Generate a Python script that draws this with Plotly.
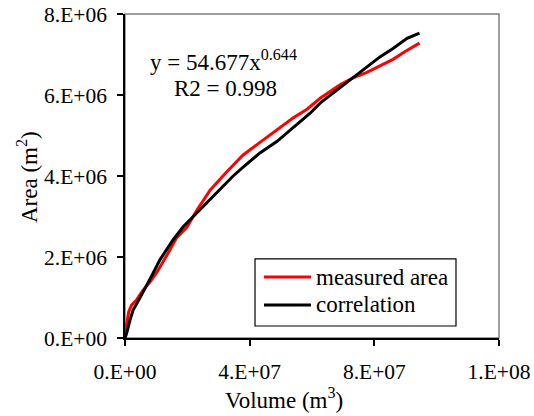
import numpy as np
import plotly.graph_objects as go

# Reservoir volume (million m3) and surface area (million m2), measured
measured_volume = [0, 0.5, 1.2, 2.1, 3.7, 5.8, 8.0, 10.2, 12.3, 14.4, 16.5, 19.9,
                   23.1, 27.3, 32.6, 37.9, 43.3, 48.7, 53.9, 58.4, 62.6, 69.0,
                   73.0, 77.6, 82.0, 86.0, 90.0, 94.5]
measured_area = [0.10, 0.35, 0.65, 0.81, 0.94, 1.18, 1.38, 1.62, 1.88, 2.17, 2.47, 2.74,
                 3.16, 3.65, 4.10, 4.52, 4.83, 5.14, 5.43, 5.65, 5.92, 6.25,
                 6.42, 6.56, 6.72, 6.88, 7.08, 7.28]

# Power-law correlation evaluated at the survey volumes (million units)
corr_volume = [0, 0.55, 1.6, 2.6, 4.8, 7.1, 9.0, 11.2, 15.4, 18.6, 21.8, 26.3,
               30.5, 34.7, 37.9, 43.3, 48.7, 52.9, 59.4, 62.6, 69.0, 75.4,
               81.8, 86.0, 90.5, 94.5]
corr_area = [0, 0.12, 0.44, 0.69, 0.99, 1.31, 1.60, 1.93, 2.42, 2.74, 2.99, 3.33,
             3.65, 4.00, 4.22, 4.57, 4.85, 5.12, 5.55, 5.80, 6.18, 6.54,
             6.94, 7.15, 7.40, 7.53]

x_tickvals = [0, 4e7, 8e7, 1.2e8]
x_ticktext = ["0.E+00", "4.E+07", "8.E+07", "1.E+08"]
y_tickvals = [0, 2e6, 4e6, 6e6, 8e6]
y_ticktext = ["0.E+00", "2.E+06", "4.E+06", "6.E+06", "8.E+06"]

series_names = ["measured area", "correlation"]
series_colors = ["#ff0000", "#000000"]

FONT = "Liberation Serif, Times New Roman, serif"

fig = go.Figure()
fig.add_trace(go.Scatter(x=np.array(measured_volume) * 1e6, y=np.array(measured_area) * 1e6,
                         mode="lines", name=series_names[0],
                         line=dict(color=series_colors[0], width=3)))
fig.add_trace(go.Scatter(x=np.array(corr_volume) * 1e6, y=np.array(corr_area) * 1e6,
                         mode="lines", name=series_names[1],
                         line=dict(color=series_colors[1], width=3)))

axis_common = dict(showgrid=False, zeroline=False, showline=True, linecolor="black",
                   linewidth=1.5, ticks="outside", ticklen=6, tickwidth=1.5,
                   tickcolor="black", automargin=False,
                   tickfont=dict(family=FONT, size=21.5, color="black"))

fig.update_xaxes(range=[0, 1.2e8], tickmode="array", tickvals=x_tickvals,
                 ticktext=x_ticktext, ticklabelstandoff=7, **axis_common)
fig.update_yaxes(range=[0, 8e6], tickmode="array", tickvals=y_tickvals,
                 ticktext=y_ticktext, ticklabelstandoff=6, **axis_common)

# grey frame on top / right
fig.add_shape(type="rect", xref="paper", yref="paper", x0=0, x1=1, y0=0, y1=1,
              line=dict(color="#808080", width=1.5), layer="below")

# legend box drawn by hand
fig.add_shape(type="rect", xref="paper", yref="paper", x0=0.3476, x1=0.885,
              y0=0.037, y1=0.244, line=dict(color="black", width=1.2),
              fillcolor="white", layer="above")
for row_y, name, col in zip([0.188, 0.102], series_names, series_colors):
    fig.add_shape(type="line", xref="paper", yref="paper", x0=0.3716, x1=0.4973,
                  y0=row_y, y1=row_y, line=dict(color=col, width=3), layer="above")
    fig.add_annotation(xref="paper", yref="paper", x=0.5053, y=row_y, text=name,
                       showarrow=False, xanchor="left", yanchor="middle",
                       font=dict(family=FONT, size=23, color="black"))

# fitted equation
fig.add_annotation(xref="paper", yref="paper", x=0.0615, y=0.858,
                   text="y = 54.677x<sup>0.644</sup>", showarrow=False,
                   xanchor="left", yanchor="middle",
                   font=dict(family=FONT, size=23, color="black"))
fig.add_annotation(xref="paper", yref="paper", x=0.1257, y=0.769,
                   text="R2 = 0.998", showarrow=False,
                   xanchor="left", yanchor="middle",
                   font=dict(family=FONT, size=23, color="black"))

# axis titles
fig.add_annotation(xref="paper", yref="paper", x=(284 - 125) / 374, y=-(398 - 338) / 324,
                   text="Volume (m<sup>3</sup>)", showarrow=False,
                   xanchor="center", yanchor="middle",
                   font=dict(family=FONT, size=23, color="black"))
fig.add_annotation(xref="paper", yref="paper", x=-(125 - 27) / 374, y=(338 - 177) / 324,
                   text="Area (m<sup>2</sup>)", showarrow=False, textangle=-90,
                   xanchor="center", yanchor="middle",
                   font=dict(family=FONT, size=23, color="black"))

fig.update_layout(width=534, height=416, showlegend=False,
                  margin=dict(l=125, r=35, t=14, b=78),
                  paper_bgcolor="white", plot_bgcolor="white")

fig.write_html("out.html")
